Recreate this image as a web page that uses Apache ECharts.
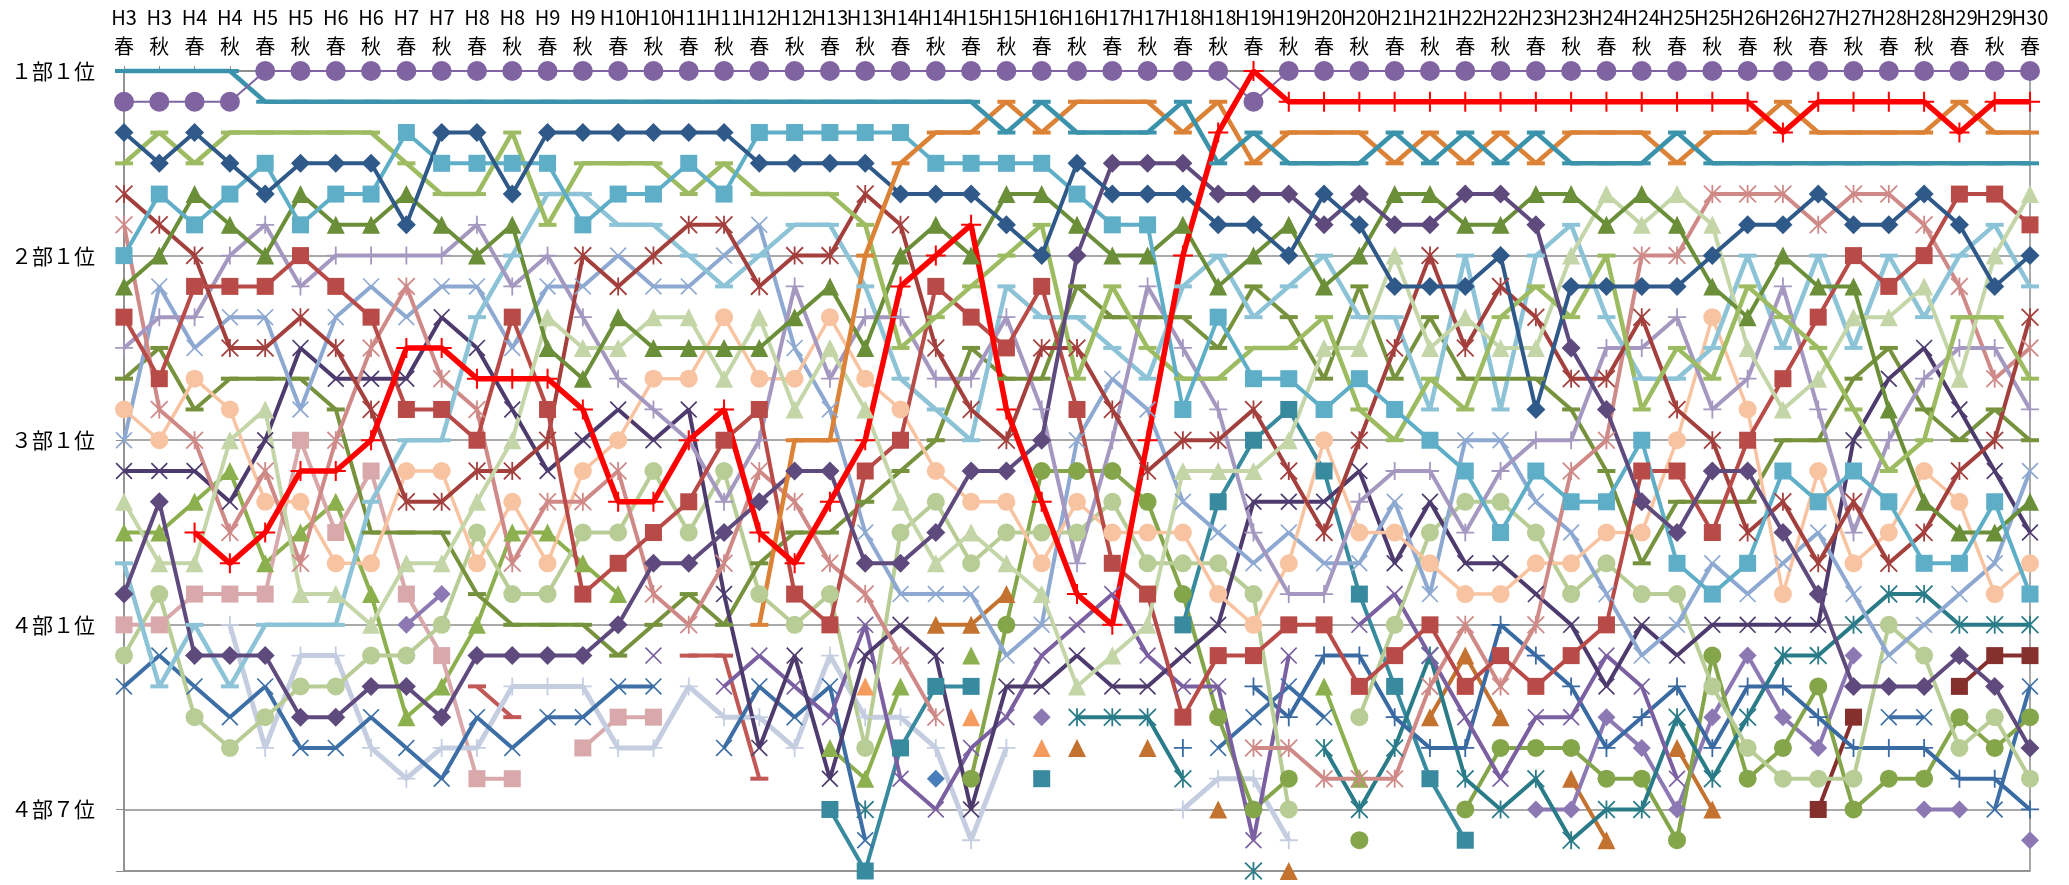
<!DOCTYPE html>
<html>
<head>
<meta charset="utf-8">
<script src="https://cdn.jsdelivr.net/npm/echarts@6/dist/echarts.min.js"></script>
<style>
  html, body { margin: 0; padding: 0; background: #fff; }
  #chart { width: 2069px; height: 885px; }
</style>
</head>
<body>
<div id="chart"></div>
<script>
const _ = null

// 大会（春・秋）
const categories = [
  'H3\n春', 'H3\n秋', 'H4\n春', 'H4\n秋', 'H5\n春', 'H5\n秋', 'H6\n春', 'H6\n秋', 'H7\n春', 'H7\n秋',
  'H8\n春', 'H8\n秋', 'H9\n春', 'H9\n秋', 'H10\n春', 'H10\n秋', 'H11\n春', 'H11\n秋', 'H12\n春', 'H12\n秋',
  'H13\n春', 'H13\n秋', 'H14\n春', 'H14\n秋', 'H15\n春', 'H15\n秋', 'H16\n春', 'H16\n秋', 'H17\n春', 'H17\n秋',
  'H18\n春', 'H18\n秋', 'H19\n春', 'H19\n秋', 'H20\n春', 'H20\n秋', 'H21\n春', 'H21\n秋', 'H22\n春', 'H22\n秋',
  'H23\n春', 'H23\n秋', 'H24\n春', 'H24\n秋', 'H25\n春', 'H25\n秋', 'H26\n春', 'H26\n秋', 'H27\n春', 'H27\n秋',
  'H28\n春', 'H28\n秋', 'H29\n春', 'H29\n秋', 'H30\n春'
]

// 縦軸の目盛（通算順位 → 表示）
const yTickValues = [1, 7, 13, 19, 25]
const yTickLabels = ['１部１位', '２部１位', '３部１位', '４部１位', '４部７位']

// 各チームの通算順位（1部1位 = 1 ... 6チーム/部）
const purpleCircle = [2,2,2,2,1,1,1,1,1,1, 1,1,1,1,1,1,1,1,1,1, 1,1,1,1,1,1,1,1,1,1, 1,1,2,1,1,1,1,1,1,1, 1,1,1,1,1,1,1,1,1,1, 1,1,1,1,1]
const tealLine = [1,1,1,1,2,2,2,2,2,2, 2,2,2,2,2,2,2,2,2,2, 2,2,2,2,2,3,2,3,3,3, 2,4,3,4,4,4,3,4,3,4, 3,4,4,4,3,4,4,4,4,4, 4,4,4,4,4]
const orangeLine = [_,_,_,_,_,_,_,_,_,_, _,_,_,_,_,_,_,_,19,13, 13,7,4,3,3,2,3,2,2,2, 3,2,4,3,3,3,4,3,4,3, 4,3,3,3,4,3,3,2,3,3, 3,3,2,3,3]
const redPlus = [_,_,16,17,16,14,14,13,10,10, 11,11,11,12,15,15,13,12,16,17, 15,13,8,7,6,12,15,18,19,13, 7,3,1,2,2,2,2,2,2,2, 2,2,2,2,2,2,2,3,2,2, 2,2,3,2,2]
const navyDiamond = [3,4,3,4,5,4,4,4,6,3, 3,5,3,3,3,3,3,3,4,4, 4,4,5,5,5,6,7,4,5,5, 5,6,6,7,5,6,8,8,8,7, 12,8,8,8,8,7,6,6,5,6, 6,5,6,8,7]
const plumDiamond = [18,15,20,20,20,22,22,21,21,22, 20,20,20,20,19,17,17,16,15,14, 14,17,17,16,14,14,13,7,4,4, 4,5,5,5,6,5,6,6,5,5, 6,10,12,15,16,14,14,16,18,21, 21,21,20,21,23]
const aquaSquare = [7,5,6,5,4,6,5,5,3,4, 4,4,4,6,5,5,4,5,3,3, 3,3,3,4,4,4,4,5,6,6, 12,9,11,11,12,11,12,13,14,16, 14,15,15,13,17,18,17,14,15,14, 15,17,17,15,18]
const limeDash = [4,3,4,3,3,3,3,3,4,5, 5,3,6,4,4,4,5,4,5,5, 5,6,10,9,8,7,6,11,8,10, 11,11,10,10,9,12,13,11,12,9, 8,9,7,12,10,11,8,9,10,12, 14,13,9,9,11]
const oliveTriangle = [8,7,5,6,7,5,6,6,5,6, 7,6,10,11,9,10,10,10,10,9, 8,10,7,6,7,5,5,6,7,7, 6,8,7,6,8,7,5,5,6,6, 5,5,6,5,6,8,9,7,8,8, 12,15,16,16,15]
const paleTriangle = [15,17,17,13,12,18,18,19,17,17, 15,13,9,10,10,9,9,11,9,12, 10,12,15,17,16,17,18,21,20,19, 14,14,14,13,10,10,7,10,9,10, 10,7,5,6,5,6,10,12,11,9, 9,8,11,7,5]
const brickSquare = [9,11,8,8,8,7,8,9,12,12, 13,9,12,18,17,16,15,13,12,18, 19,14,13,8,9,10,8,12,17,18, 22,20,20,19,19,21,20,19,21,20, 21,20,19,14,14,16,13,11,9,7, 8,7,5,5,6]
const maroonStar = [5,6,7,10,10,9,10,12,15,15, 14,14,13,7,8,7,6,6,8,7, 7,5,6,10,12,13,10,10,12,14, 13,13,12,14,16,13,10,7,10,8, 9,11,11,9,12,13,16,15,17,15, 17,16,14,13,9]
const lilacPlus = [10,9,9,7,6,8,7,7,7,7, 6,8,7,9,11,12,13,15,13,8, 11,9,9,11,11,9,12,17,13,8, 10,12,16,18,18,15,14,14,16,14, 13,13,10,10,9,12,11,8,12,16, 13,11,10,10,12]
const skyLine = [17,21,19,21,19,19,19,15,13,13, 9,7,5,5,6,6,7,8,7,6, 6,8,11,12,13,8,9,9,10,11, 8,7,9,8,7,9,9,12,7,12, 7,6,9,11,11,10,7,10,7,10, 7,9,7,6,8]
const pinkStar = [6,12,13,16,14,17,13,10,8,11, 12,17,15,15,14,18,19,17,14,15, 17,18,20,22,_,_,_,_,_,_, _,_,23,23,24,24,24,21,19,21, 19,14,13,7,7,5,5,5,6,5, 5,6,8,11,10]
const peachCircle = [12,13,11,12,15,15,17,17,14,14, 17,15,17,14,13,11,11,9,11,11, 9,11,12,14,15,15,17,15,16,16, 16,18,19,17,13,16,16,17,18,18, 17,17,16,16,13,9,12,18,14,17, 16,14,15,18,17]
const steelCross = [13,8,10,9,9,12,9,8,9,8, 8,10,8,8,7,8,8,7,6,10, 12,16,18,18,18,20,19,13,11,12, 15,16,17,16,17,17,15,18,13,13, 15,16,18,20,19,17,18,17,16,18, 20,19,18,17,14]
const indigoCross = [14,14,14,15,13,10,11,11,11,9, 10,12,14,13,12,13,12,18,23,20, 24,20,19,20,25,21,21,20,21,21, 20,19,15,15,15,14,17,15,17,17, 18,19,21,19,20,19,19,19,19,13, 11,10,12,14,16]
const violetCross = [_,_,_,_,_,_,_,_,_,_, _,_,_,_,_,20,_,21,20,21, 22,19,24,25,23,22,20,19,18,20, 21,21,26,20,_,19,18,20,22,24, 22,22,20,21,24,_,_,_,_,_, _,_,_,_,_]
const bluePlus = [_,_,_,_,_,_,_,_,_,_, _,_,_,_,_,_,_,_,_,_, _,_,_,_,_,_,_,_,_,_, 23,_,21,22,20,20,22,23,23,19, 20,21,23,22,21,23,21,21,22,23, 23,23,24,24,25]
const tealStar = [_,_,_,_,_,_,_,_,_,_, _,_,_,_,_,_,_,_,_,_, _,25,_,_,_,_,_,22,22,22, 24,_,27,_,23,25,23,20,24,25, 24,26,25,25,22,24,22,20,20,19, 18,18,19,19,19]
const deepTealSquare = [_,_,_,_,_,_,_,_,_,_, _,_,_,_,_,_,_,_,_,_, 25,27,23,21,21,_,24,_,_,_, 19,15,13,12,14,18,21,24,26,_, _,_,_,_,_,_,_,_,_,_, _,_,_,_,_]
const mossCircle = [_,_,_,_,_,_,_,_,_,_, _,_,_,_,_,_,_,_,_,_, _,_,_,_,24,19,14,14,14,15, 18,22,25,24,_,26,_,_,25,23, 23,23,24,24,26,20,24,23,21,25, 24,24,22,23,22]
const sageCircle = [20,18,22,23,22,21,21,20,20,19, 16,18,18,16,16,14,16,14,18,19, 18,23,16,15,17,16,16,16,15,17, 17,17,18,25,_,22,19,16,15,15, 16,18,17,18,18,21,23,24,24,24, 19,20,23,22,24]
const lavenderDiamond = [_,_,_,_,_,_,_,_,19,18, _,_,_,_,_,_,_,_,_,_, _,_,_,_,_,_,22,_,_,_, _,_,_,_,_,_,_,_,_,_, 25,25,22,23,25,22,20,22,23,20, _,25,25,_,26]
const rustTriangle = [_,_,_,_,_,_,_,_,_,_, _,_,_,_,_,_,_,_,_,_, _,_,_,19,19,18,_,23,_,23, _,25,_,27,_,_,_,22,20,22, _,24,26,_,23,25,_,_,_,_, _,_,_,_,_]
const wineSquare = [_,_,_,_,_,_,_,_,_,_, _,_,_,_,_,_,_,_,_,_, _,_,_,_,_,_,_,_,_,_, _,_,_,_,_,_,_,_,_,_, _,_,_,_,_,_,_,_,25,22, _,_,21,20,20]
const roseSquare = [19,19,18,18,18,13,16,14,18,20, 24,24,_,23,22,22,_,_,_,_, _,_,_,_,_,_,_,_,_,_, _,_,_,_,_,_,_,_,_,_, _,_,_,_,_,_,_,_,_,_, _,_,_,_,_]
const mistPlus = [_,_,_,19,23,20,20,23,24,23, 23,21,21,21,23,23,21,22,22,23, 20,22,22,23,26,23,_,_,_,_, 25,24,24,26,_,_,_,_,_,_, _,_,_,_,_,_,_,_,_,_, _,_,_,_,_]
const cobaltCross = [21,20,21,22,21,23,23,22,23,24, 22,23,22,22,21,21,_,23,21,22, 21,26,_,_,_,_,_,_,_,_, _,23,22,21,22,_,_,_,_,_, _,_,_,_,_,_,_,_,_,_, 22,22,_,25,21]
const oliveDash = [11,10,12,11,11,11,12,16,16,16, 18,19,19,19,20,19,18,19,17,16, 16,15,14,13,10,11,11,8,9,9, 9,10,8,9,11,8,11,9,11,11, 11,12,14,17,15,15,15,13,13,11, 10,12,13,12,13]
const grassTriangle = [16,16,15,14,17,16,15,18,22,21, 19,16,16,17,18,_,_,_,_,_, 23,24,21,_,20,_,_,_,_,_, _,_,_,_,21,24,_,_,_,_, _,_,_,_,_,_,_,_,_,_, _,_,_,_,_]
const apricotTriangle = [_,_,_,_,_,_,_,_,_,_, _,_,_,_,_,_,_,_,_,_, _,21,_,_,22,_,23,_,_,_, _,_,_,_,_,_,_,_,_,_, _,_,_,_,_,_,_,_,_,_, _,_,_,_,_]
const dullRedLine = [_,_,_,_,_,_,_,_,_,_, 21,22,_,_,_,_,20,20,24,_, _,_,_,_,_,_,_,_,_,_, _,_,_,_,_,_,_,_,_,_, _,_,_,_,_,_,_,_,_,_, _,_,_,_,_]
const blueDiamond = [_,_,_,_,_,_,_,_,_,_, _,_,_,_,_,_,_,_,_,_, _,_,_,24,_,_,_,_,_,_, _,_,_,_,_,_,_,_,_,_, _,_,_,_,_,_,_,_,_,_, _,_,_,_,_]

// マーカー形状
const PLUS = 'path://M0,9L20,9L20,11L0,11Z M9,0L11,0L11,20L9,20Z'
const CROSS = 'path://M0,1.4L1.4,0L20,18.6L18.6,20Z M18.6,0L20,1.4L1.4,20L0,18.6Z'
const STAR = 'path://M0,1.4L1.4,0L20,18.6L18.6,20Z M18.6,0L20,1.4L1.4,20L0,18.6Z M9,0L11,0L11,20L9,20Z'
const DASH = 'path://M0,0L20,0L20,4L0,4Z'

// 描画順（後ろほど手前）
const seriesDefs = [
  { name: 'blueDiamond', data: blueDiamond, color: '#4a7ebb', symbol: 'diamond', size: 18, width: 4 },
  { name: 'dullRedLine', data: dullRedLine, color: '#c25855', symbol: DASH, size: [18, 4], width: 4 },
  { name: 'apricotTriangle', data: apricotTriangle, color: '#f59b5d', symbol: 'triangle', size: 18, width: 4 },
  { name: 'grassTriangle', data: grassTriangle, color: '#8db04e', symbol: 'triangle', size: 18, width: 4 },
  { name: 'roseSquare', data: roseSquare, color: '#d8a8aa', symbol: 'rect', size: 17, width: 4 },
  { name: 'mistPlus', data: mistPlus, color: '#c5cee1', symbol: PLUS, size: 18, width: 5 },
  { name: 'cobaltCross', data: cobaltCross, color: '#3d6fa6', symbol: CROSS, size: 17, width: 4 },
  { name: 'wineSquare', data: wineSquare, color: '#86302e', symbol: 'rect', size: 17, width: 4 },
  { name: 'rustTriangle', data: rustTriangle, color: '#c4722f', symbol: 'triangle', size: 18, width: 4 },
  { name: 'lavenderDiamond', data: lavenderDiamond, color: '#8c79b4', symbol: 'diamond', size: 18, width: 4 },
  { name: 'mossCircle', data: mossCircle, color: '#84a54a', symbol: 'circle', size: 18, width: 4 },
  { name: 'deepTealSquare', data: deepTealSquare, color: '#388a9e', symbol: 'rect', size: 17, width: 4 },
  { name: 'tealStar', data: tealStar, color: '#2a7b88', symbol: STAR, size: 18, width: 4 },
  { name: 'bluePlus', data: bluePlus, color: '#3a6aa2', symbol: PLUS, size: 18, width: 4 },
  { name: 'violetCross', data: violetCross, color: '#7a5fa1', symbol: CROSS, size: 17, width: 4 },
  { name: 'sageCircle', data: sageCircle, color: '#b8cc95', symbol: 'circle', size: 18, width: 4 },
  { name: 'oliveDash', data: oliveDash, color: '#76923c', symbol: DASH, size: [18, 4], width: 4 },
  { name: 'indigoCross', data: indigoCross, color: '#4e3b6e', symbol: CROSS, size: 17, width: 4 },
  { name: 'steelCross', data: steelCross, color: '#8ea9d1', symbol: CROSS, size: 17, width: 4 },
  { name: 'peachCircle', data: peachCircle, color: '#f8c3a1', symbol: 'circle', size: 18, width: 3.5 },
  { name: 'pinkStar', data: pinkStar, color: '#cf8a88', symbol: STAR, size: 18, width: 4 },
  { name: 'skyLine', data: skyLine, color: '#8dc3d7', symbol: DASH, size: [18, 4], width: 4.5 },
  { name: 'lilacPlus', data: lilacPlus, color: '#a498c0', symbol: PLUS, size: 18, width: 4 },
  { name: 'maroonStar', data: maroonStar, color: '#a33f3c', symbol: STAR, size: 18, width: 4 },
  { name: 'brickSquare', data: brickSquare, color: '#b84a47', symbol: 'rect', size: 17, width: 4 },
  { name: 'paleTriangle', data: paleTriangle, color: '#c4d6a8', symbol: 'triangle', size: 18, width: 4 },
  { name: 'oliveTriangle', data: oliveTriangle, color: '#6b8e38', symbol: 'triangle', size: 18, width: 4 },
  { name: 'limeDash', data: limeDash, color: '#9dbb61', symbol: DASH, size: [18, 4], width: 4.5 },
  { name: 'aquaSquare', data: aquaSquare, color: '#5eaec7', symbol: 'rect', size: 17, width: 4 },
  { name: 'plumDiamond', data: plumDiamond, color: '#5f4a7e', symbol: 'diamond', size: 19, width: 4 },
  { name: 'navyDiamond', data: navyDiamond, color: '#2f5989', symbol: 'diamond', size: 19, width: 4 },
  { name: 'orangeLine', data: orangeLine, color: '#dc8236', symbol: DASH, size: [18, 4], width: 4.5 },
  { name: 'tealLine', data: tealLine, color: '#3b93ab', symbol: DASH, size: [18, 4], width: 4.5 },
  { name: 'purpleCircle', data: purpleCircle, color: '#8064a2', symbol: 'circle', size: 20, width: 2 },
  { name: 'redPlus', data: redPlus, color: '#ff0000', symbol: PLUS, size: 20, width: 5.5 }
]

const FONT = '"Noto Sans CJK JP", "Noto Sans", sans-serif'
const GRAY = '#8c8c8c'

const chart = echarts.init(document.getElementById('chart'))

chart.setOption({
  animation: false,
  backgroundColor: '#fff',
  grid: {
    left: 124,
    right: 39,
    top: 71,
    bottom: 14,
    show: true,
    borderColor: GRAY,
    borderWidth: 1.5
  },
  xAxis: {
    type: 'category',
    data: categories,
    position: 'top',
    boundaryGap: false,
    axisLine: { lineStyle: { color: GRAY, width: 1.5 } },
    axisTick: { show: true, length: 5, lineStyle: { color: GRAY } },
    axisLabel: {
      interval: 0,
      margin: 10,
      fontSize: 20,
      lineHeight: 29,
      color: '#000',
      fontFamily: FONT
    },
    splitLine: { show: false }
  },
  yAxis: {
    type: 'value',
    inverse: true,
    min: 1,
    max: 27,
    interval: 6,
    axisLine: { show: true, lineStyle: { color: GRAY, width: 1.5 } },
    axisTick: { show: true, length: 8, lineStyle: { color: GRAY } },
    axisLabel: {
      margin: 29,
      fontSize: 21,
      color: '#000',
      fontFamily: FONT,
      formatter: function (v) {
        const k = yTickValues.indexOf(v)
        return k >= 0 ? yTickLabels[k] : ''
      }
    },
    splitLine: { lineStyle: { color: GRAY, width: 1.5 } }
  },
  series: seriesDefs.map(function (s) {
    return {
      name: s.name,
      type: 'line',
      data: s.data,
      clip: false,
      connectNulls: false,
      showAllSymbol: true,
      symbol: s.symbol,
      symbolSize: s.size,
      lineStyle: { color: s.color, width: s.width },
      itemStyle: { color: s.color, borderWidth: 0 },
      emphasis: { disabled: true },
      silent: true
    }
  })
})
</script>
</body>
</html>
